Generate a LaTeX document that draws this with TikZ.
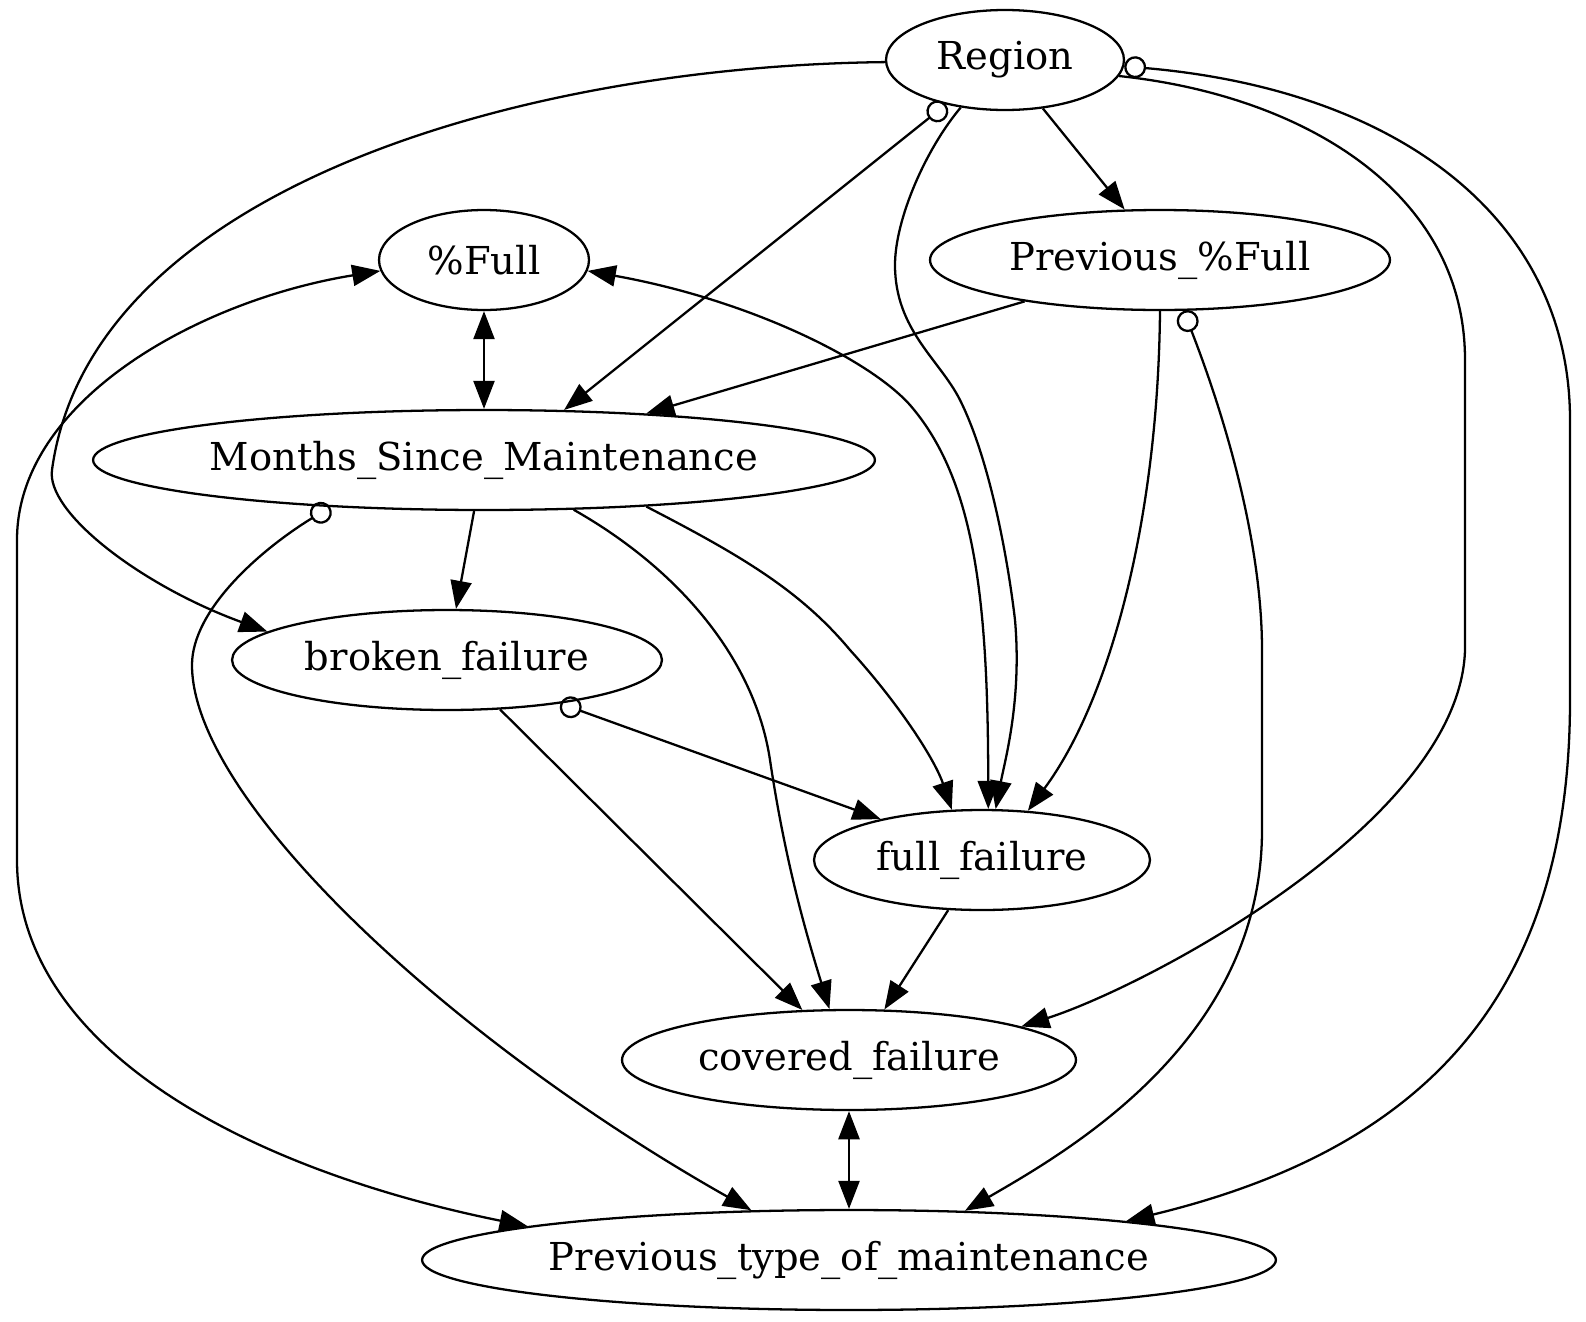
\documentclass[tikz,border=0pt]{standalone}
\usepackage{fontspec}
\setmainfont{DejaVu Serif}
\usetikzlibrary{shapes.geometric,arrows.meta}
\tikzset{
  nd/.style={draw, ellipse, line width=1.3pt, inner sep=0pt, minimum height=2cm,
    font=\fontsize{21.9}{26}\selectfont},
  edge/.style={line width=1.3pt},
  >={Triangle[length=16pt,width=12pt]},
  OC/.tip={Circle[open,length=12.5pt]}
}
\begin{document}
\begin{tikzpicture}[x=0.02cm,y=-0.02cm]
\useasboundingbox (0,0) rectangle (1586,1322);
% nodes
\node[nd, minimum width=4.76cm] (region) at (1005,60) {Region};
\node[nd, minimum width=4.2cm] (pfull) at (484,260) {\%Full};
\node[nd, minimum width=9.2cm] (prevfull) at (1160,260) {Previous\_\%Full};
\node[nd, minimum width=15.64cm] (msm) at (484,460) {Months\_Since\_Maintenance};
\node[nd, minimum width=8.6cm] (broken) at (447,660) {broken\_failure};
\node[nd, minimum width=6.72cm] (full) at (982,860) {full\_failure};
\node[nd, minimum width=9.08cm] (covered) at (849,1060) {covered\_failure};
\node[nd, minimum width=17.08cm] (ptm) at (849,1260) {Previous\_type\_of\_maintenance};
% edges
\draw[edge,->] (region.181) .. controls (520,66) and (90,190) .. (52,470)
  .. controls (46,512) and (140,585) .. (broken.171);
\draw[edge,OC->] (region.217.7) -- (msm.32.5);
\draw[edge,->] (region.227.3) .. controls (925,150) and (895,220) .. (895,265)
  .. controls (895,330) and (940,360) .. (960,400)
  .. controls (990,460) and (1008,560) .. (1015,620)
  .. controls (1022,700) and (1005,760) .. (full.75.4);
\draw[edge,->] (region.308) -- (prevfull.125.5);
\draw[edge,->] (region.-8) .. controls (1300,95) and (1465,190) .. (1465,360)
  -- (1465,650) .. controls (1460,820) and (1150,985) .. (covered.11.2);
\draw[edge,OC->] (region.-3) .. controls (1400,90) and (1570,220) .. (1570,420)
  -- (1570,700) .. controls (1570,1000) and (1420,1150) .. (ptm.8.06);
\draw[edge,<->] (pfull.south) -- (msm.north);
\draw[edge,<->] (pfull.186) .. controls (200,300) and (17,400) .. (17,540)
  -- (17,860) .. controls (17,1050) and (250,1170) .. (ptm.174.7);
\draw[edge,<->] (pfull.-6.2) .. controls (750,300) and (870,360) .. (910,405)
  .. controls (975,480) and (988,600) .. (full.83);
\draw[edge,->] (prevfull.197.3) -- (msm.16.4);
\draw[edge,->] (prevfull.south) .. controls (1158,520) and (1110,700) .. (full.47);
\draw[edge,OC->] (prevfull.-65.2) .. controls (1230,430) and (1262,550) .. (1262,650)
  -- (1262,830) .. controls (1262,1040) and (1070,1150) .. (ptm.23.5);
\draw[edge,->] (msm.-101.3) -- (broken.80.9);
\draw[edge,OC->] (msm.197.2) .. controls (260,550) and (192,610) .. (192,665)
  .. controls (192,800) and (450,1040) .. (ptm.153.3);
\draw[edge,->] (msm.-29.2) .. controls (680,570) and (755,660) .. (770,760)
  .. controls (785,860) and (805,930) .. (covered.111.2);
\draw[edge,->] (msm.-16.4) .. controls (740,555) and (800,590) .. (850,650)
  .. controls (900,705) and (935,760) .. (full.121);
\draw[edge,OC->] (broken.-21) -- (full.158.7);
\draw[edge,->] (broken.-43.3) -- (covered.133.8);
\draw[edge,->] (full.-124) -- (covered.55.5);
\draw[edge,<->] (covered.south) -- (ptm.north);
\end{tikzpicture}
\end{document}
